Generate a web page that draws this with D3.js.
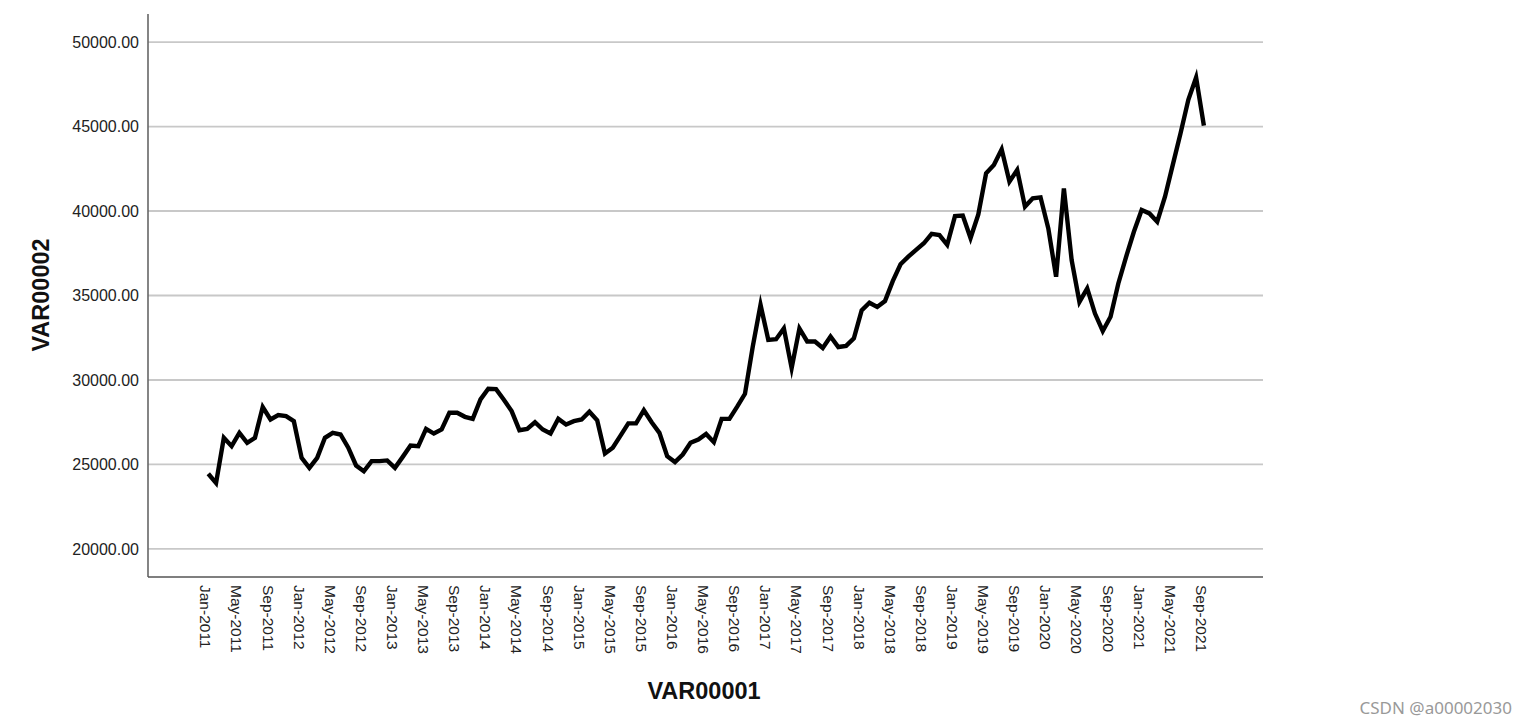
<!DOCTYPE html>
<html>
<head>
<meta charset="utf-8">
<script src="https://cdn.jsdelivr.net/npm/d3@7"></script>
<style>
  html, body { margin: 0; padding: 0; background: #fff; }
  svg { display: block; }
</style>
</head>
<body>
<svg id="chart" width="1527" height="726"></svg>
<script>
// ---- data ----
const startYear = 2011;
const monthNames = ["Jan","Feb","Mar","Apr","May","Jun","Jul","Aug","Sep","Oct","Nov","Dec"];
const values2011 = [24450, 23900, 26580, 26085, 26870, 26280, 26580, 28400, 27660, 27920, 27860, 27560];
const values2012 = [25390, 24800, 25390, 26580, 26870, 26775, 25990, 24940, 24600, 25200, 25200, 25240];
const values2013 = [24800, 25450, 26120, 26080, 27110, 26830, 27070, 28060, 28060, 27820, 27700, 28850];
const values2014 = [29480, 29460, 28830, 28160, 27030, 27110, 27500, 27070, 26830, 27700, 27370, 27560];
const values2015 = [27660, 28120, 27620, 25650, 25990, 26710, 27430, 27430, 28210, 27500, 26870, 25490];
const values2016 = [25140, 25590, 26280, 26480, 26810, 26320, 27700, 27700, 28420, 29180, 31980, 34450];
const values2017 = [32370, 32410, 33050, 30700, 33050, 32280, 32280, 31890, 32570, 31950, 32020, 32470];
const values2018 = [34120, 34570, 34320, 34670, 35850, 36850, 37300, 37700, 38090, 38650, 38580, 38000];
const values2019 = [39700, 39730, 38400, 39800, 42230, 42730, 43650, 41740, 42430, 40260, 40750, 40810];
const values2020 = [38970, 36110, 41340, 37090, 34620, 35420, 33930, 32900, 33740, 35710, 37290, 38770];
const values2021 = [40060, 39860, 39370, 40850, 42730, 44600, 46580, 47900, 45050];

const yTickValues = [20000, 25000, 30000, 35000, 40000, 45000, 50000];
const xTickLabels = ["Jan-2011","May-2011","Sep-2011","Jan-2012","May-2012","Sep-2012",
  "Jan-2013","May-2013","Sep-2013","Jan-2014","May-2014","Sep-2014",
  "Jan-2015","May-2015","Sep-2015","Jan-2016","May-2016","Sep-2016",
  "Jan-2017","May-2017","Sep-2017","Jan-2018","May-2018","Sep-2018",
  "Jan-2019","May-2019","Sep-2019","Jan-2020","May-2020","Sep-2020",
  "Jan-2021","May-2021","Sep-2021"];
const xTitle = "VAR00001";
const yTitle = "VAR00002";
const watermark = "CSDN @a00002030";

// ---- build series ----
const allValues = [].concat(values2011, values2012, values2013, values2014, values2015,
  values2016, values2017, values2018, values2019, values2020, values2021);
const data = allValues.map((v, i) => ({
  i,
  label: monthNames[i % 12] + "-" + (startYear + Math.floor(i / 12)),
  value: v
}));
const labelIndex = new Map(data.map(d => [d.label, d.i]));

// ---- layout ----
const plot = { left: 148, right: 1263, top: 14, bottom: 577 };
const svg = d3.select("#chart");

const x = d3.scaleLinear()
  .domain([-7.75, 135.6])
  .range([plot.left, plot.right]);

const y = d3.scaleLinear()
  .domain([18340, 51660])
  .range([plot.bottom, plot.top]);

// gridlines
svg.append("g")
  .selectAll("line")
  .data(yTickValues)
  .join("line")
  .attr("x1", plot.left)
  .attr("x2", plot.right)
  .attr("y1", d => y(d))
  .attr("y2", d => y(d))
  .attr("stroke", "#c8c8c8")
  .attr("stroke-width", 1.8);

// y axis (labels only, no tick marks)
const yAxis = d3.axisLeft(y)
  .tickValues(yTickValues)
  .tickFormat(d3.format(".2f"))
  .tickSize(0)
  .tickPadding(9);
const gy = svg.append("g")
  .attr("transform", `translate(${plot.left},0)`)
  .call(yAxis);
gy.select(".domain").remove();
gy.selectAll("text")
  .attr("font-family", "'Liberation Sans', Arial, sans-serif")
  .attr("font-size", 16)
  .attr("fill", "#222");

// x axis labels (rotated)
const xAxis = d3.axisBottom(x)
  .tickValues(xTickLabels.map(l => labelIndex.get(l)))
  .tickFormat(i => data[i].label)
  .tickSize(0);
const gx = svg.append("g")
  .attr("transform", `translate(0,${plot.bottom})`)
  .call(xAxis);
gx.select(".domain").remove();
gx.selectAll("text")
  .attr("font-family", "'Liberation Sans', Arial, sans-serif")
  .attr("font-size", 15.5)
  .attr("fill", "#222")
  .attr("text-anchor", "start")
  .attr("dominant-baseline", "central")
  .attr("dy", null)
  .attr("y", 0)
  .attr("transform", "translate(-3,8) rotate(90)");

// axis frame lines
svg.append("line")
  .attr("x1", plot.left).attr("x2", plot.left)
  .attr("y1", plot.top).attr("y2", plot.bottom)
  .attr("stroke", "#666").attr("stroke-width", 1.6);
svg.append("line")
  .attr("x1", plot.left).attr("x2", plot.right)
  .attr("y1", plot.bottom).attr("y2", plot.bottom)
  .attr("stroke", "#555").attr("stroke-width", 1.6);

// series line
const line = d3.line()
  .x(d => x(d.i))
  .y(d => y(d.value));
svg.append("path")
  .datum(data)
  .attr("d", line)
  .attr("fill", "none")
  .attr("stroke", "#000")
  .attr("stroke-width", 4.4)
  .attr("stroke-linejoin", "miter")
  .attr("stroke-miterlimit", 7);

// titles
svg.append("text")
  .attr("x", 704)
  .attr("y", 699)
  .attr("text-anchor", "middle")
  .attr("font-family", "'Liberation Sans', Arial, sans-serif")
  .attr("font-size", 23.5)
  .attr("font-weight", "bold")
  .attr("fill", "#111")
  .text(xTitle);

svg.append("text")
  .attr("transform", "translate(49,295) rotate(-90)")
  .attr("text-anchor", "middle")
  .attr("font-family", "'Liberation Sans', Arial, sans-serif")
  .attr("font-size", 23.5)
  .attr("font-weight", "bold")
  .attr("fill", "#111")
  .text(yTitle);

// watermark
svg.append("text")
  .attr("x", 1512)
  .attr("y", 714)
  .attr("text-anchor", "end")
  .attr("font-family", "'Noto Sans', 'Open Sans', sans-serif")
  .attr("font-size", 17)
  .attr("fill", "#999")
  .text(watermark);
</script>
</body>
</html>
